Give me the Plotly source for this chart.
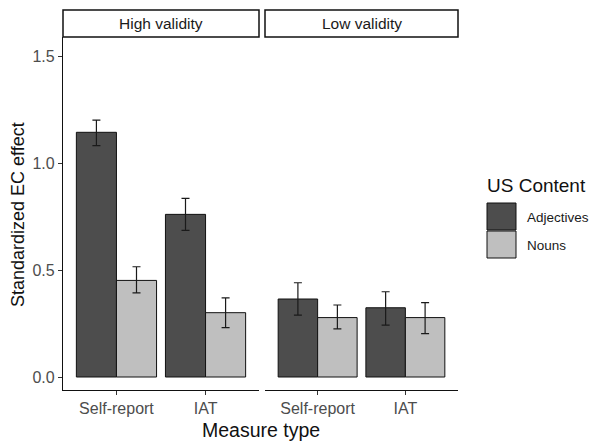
import plotly.graph_objects as go

measures = ["Self-report", "IAT"]
panels = ["High validity", "Low validity"]
groups = ["Adjectives", "Nouns"]

means = {
    "High validity": {"Adjectives": [1.145, 0.761], "Nouns": [0.452, 0.301]},
    "Low validity": {"Adjectives": [0.365, 0.324], "Nouns": [0.278, 0.278]},
}
ci_low = {
    "High validity": {"Adjectives": [1.083, 0.686], "Nouns": [0.394, 0.231]},
    "Low validity": {"Adjectives": [0.290, 0.243], "Nouns": [0.225, 0.203]},
}
ci_high = {
    "High validity": {"Adjectives": [1.202, 0.836], "Nouns": [0.516, 0.370]},
    "Low validity": {"Adjectives": [0.441, 0.399], "Nouns": [0.337, 0.348]},
}
colors = {"Adjectives": "#4d4d4d", "Nouns": "#bfbfbf"}

FONT = "Liberation Sans, Arial, sans-serif"
OFF = 8  # page body margin
W, H = 600 - OFF, 441 - OFF
L, R, T, B = 63 - OFF, 600 - 458, 37 - OFF, 441 - 390
pw, ph = W - L - R, H - T - B

def px_x(p):
    return (p - OFF - L) / pw

def px_y(p):
    return (H - B - (p - OFF)) / ph

fig = go.Figure()
for pi, panel in enumerate(panels):
    xa = "x" if pi == 0 else "x2"
    ya = "y" if pi == 0 else "y2"
    for g in groups:
        m = means[panel][g]
        up = [h - v for h, v in zip(ci_high[panel][g], m)]
        dn = [v - l for l, v in zip(ci_low[panel][g], m)]
        fig.add_trace(go.Bar(
            x=measures, y=m, name=g, xaxis=xa, yaxis=ya,
            marker=dict(color=colors[g], line=dict(color="#111111", width=1)),
            error_y=dict(type="data", array=up, arrayminus=dn, symmetric=False,
                         color="#1a1a1a", thickness=1.2, width=4),
            showlegend=False, offsetgroup=g,
        ))

d1 = (0, px_x(259))
d2 = (px_x(265), 1)
axis_common = dict(showgrid=False, zeroline=False, ticks="outside", ticklen=4,
                   tickcolor="#333333", tickwidth=1,
                   tickfont=dict(family=FONT, size=16, color="#4d4d4d"),
                   showline=True, linecolor="#111111", linewidth=1.2,
                   range=[-0.6, 1.6], type="category", fixedrange=True)
yr = [-13 / 213.7, (377 - 37) / 213.7]

fig.update_layout(
    template="none",
    width=W, height=H,
    margin=dict(l=L, r=R, t=T, b=B, pad=0),
    plot_bgcolor="white", paper_bgcolor="white",
    barmode="group", bargap=0.1, bargroupgap=0,
    font=dict(family=FONT, color="#1a1a1a"),
    xaxis=dict(domain=list(d1), anchor="y", **axis_common),
    xaxis2=dict(domain=list(d2), anchor="y2", **axis_common),
    yaxis=dict(range=yr, showgrid=False, zeroline=False, ticks="outside", ticklen=4,
               tickcolor="#333333", tickvals=[0, 0.5, 1.0, 1.5],
               ticktext=["0.0", "0.5", "1.0", "1.5"],
               tickfont=dict(family=FONT, size=16, color="#4d4d4d"),
               showline=True, linecolor="#111111", linewidth=1.2, anchor="x"),
    yaxis2=dict(range=yr, showgrid=False, zeroline=False, showticklabels=False,
                showline=False, ticks="", anchor="x2", matches="y"),
    showlegend=False,
)

# facet strips
strip_top = px_y(10)
for (x0, x1), label in zip([d1, d2], panels):
    fig.add_shape(type="rect", xref="paper", yref="paper", x0=x0, x1=x1,
                  y0=1, y1=strip_top, line=dict(color="#111111", width=1.5),
                  fillcolor="white")
    fig.add_annotation(xref="paper", yref="paper", x=(x0 + x1) / 2,
                       y=(1 + strip_top) / 2, text=label, showarrow=False,
                       font=dict(family=FONT, size=15.5, color="#1a1a1a"),
                       xanchor="center", yanchor="middle")

# axis titles
fig.add_annotation(xref="paper", yref="paper", x=px_x(260.5), y=px_y(430),
                   text="Measure type", showarrow=False,
                   font=dict(family=FONT, size=19.5, color="#111111"),
                   xanchor="center", yanchor="middle")
fig.add_annotation(xref="paper", yref="paper", x=px_x(18), y=px_y(215),
                   text="Standardized EC effect", showarrow=False, textangle=-90,
                   font=dict(family=FONT, size=18, color="#111111"),
                   xanchor="center", yanchor="middle")

# legend (manual)
fig.add_annotation(xref="paper", yref="paper", x=px_x(485), y=px_y(185),
                   text="US Content", showarrow=False,
                   font=dict(family=FONT, size=19, color="#111111"),
                   xanchor="left", yanchor="middle")
key_tops = [203, 231]
for g, kt in zip(groups, key_tops):
    fig.add_shape(type="rect", xref="paper", yref="paper",
                  x0=px_x(487), x1=px_x(516), y0=px_y(kt + 27), y1=px_y(kt),
                  line=dict(color="#111111", width=1), fillcolor=colors[g])
    fig.add_annotation(xref="paper", yref="paper", x=px_x(525), y=px_y(kt + 14),
                       text=g, showarrow=False,
                       font=dict(family=FONT, size=13.5, color="#1a1a1a"),
                       xanchor="left", yanchor="middle")

fig.write_html("out.html")
